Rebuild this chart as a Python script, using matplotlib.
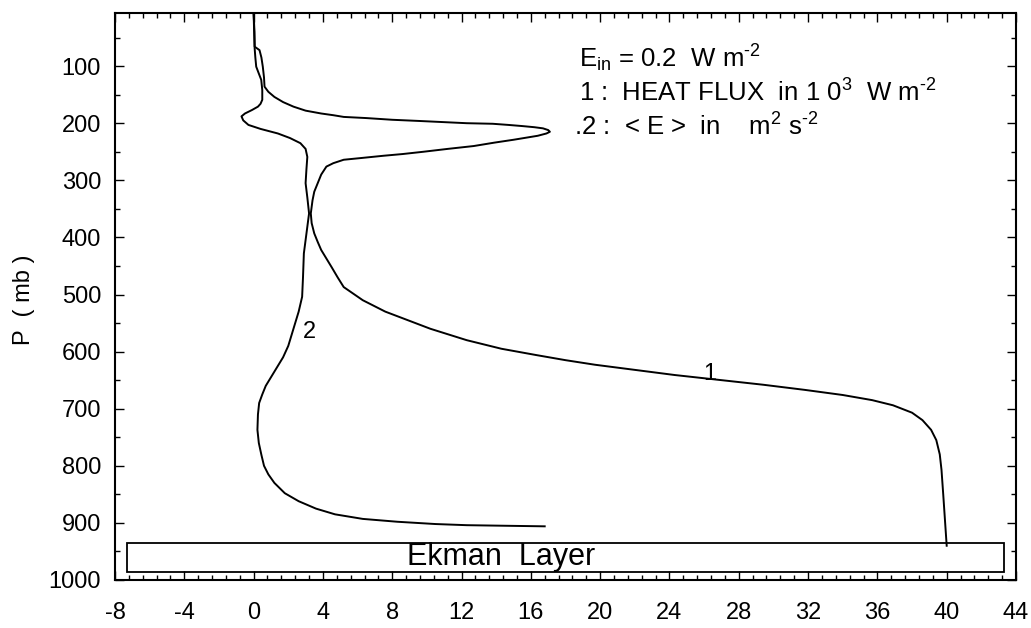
import matplotlib
matplotlib.use("Agg")
import matplotlib.pyplot as plt
from matplotlib.patches import Rectangle
from matplotlib.ticker import MultipleLocator

plt.rcParams['font.family'] = ['Liberation Sans', 'DejaVu Sans']
plt.rcParams['mathtext.fontset'] = 'custom'
plt.rcParams['mathtext.rm'] = 'Liberation Sans'
plt.rcParams['mathtext.it'] = 'Liberation Sans'
plt.rcParams['axes.unicode_minus'] = False

# Curve 1: heat flux (10^3 W m^-2) vs pressure (mb)
heat_x = [0.0, 0.05, 0.06, 0.34, 0.45, 0.53, 0.6, 0.63, 0.85, 1.2, 1.7, 2.3, 3.0, 3.9,
          4.6, 5.2, 6.5, 8.0, 9.5, 10.9, 12.3, 13.8, 14.7, 15.5, 16.2, 16.7, 17.0, 17.1,
          16.9, 16.4, 15.8, 15.0, 13.9, 12.7, 11.2, 9.8, 8.6, 7.5, 6.2, 5.2, 4.6, 4.2, 3.9,
          3.7, 3.5, 3.4, 3.3, 3.35, 3.5, 3.7, 3.9, 4.2, 4.5, 4.85, 5.2, 6.3, 7.6, 8.9, 10.2,
          12.3, 14.3, 16.3, 18.0, 19.7, 22.0, 24.3, 27.0, 29.4, 31.8, 34.0, 35.7, 36.9, 38.0,
          38.6, 39.1, 39.4, 39.6, 39.7, 39.8, 39.9, 40.0]
heat_p = [7, 40, 66, 72, 85, 101, 120, 136, 145, 154, 163, 171, 178, 183,
          186, 189, 191, 194, 196, 198, 200, 201, 203, 205, 207, 209, 212, 215,
          218, 222, 225, 229, 234, 240, 245, 250, 254, 257, 261, 264, 270, 276, 290,
          305, 320, 335, 358, 375, 393, 408, 422, 437, 452, 470, 487, 510, 530, 545, 560,
          580, 595, 606, 615, 623, 632, 641, 650, 658, 667, 676, 685, 694, 707,
          720, 737, 755, 780, 807, 850, 895, 940]

# Curve 2: <E> (m^2 s^-2) vs pressure (mb)
ke_x = [0.0, 0.03, 0.06, 0.1, 0.15, 0.3, 0.44, 0.5, 0.5, 0.4, 0.25, -0.1, -0.5, -0.7,
        -0.6, -0.3, 0.4, 1.4, 2.1, 2.7, 3.0, 3.1, 3.05, 3.0, 3.1, 3.2, 3.05, 2.9, 2.85,
        2.8, 2.6, 2.4, 2.2, 2.0, 1.7, 1.3, 1.0, 0.7, 0.5, 0.32, 0.25, 0.22, 0.3, 0.45,
        0.6, 0.85, 1.2, 1.8, 2.6, 3.6, 4.7, 6.3, 8.3, 10.5, 12.3, 14.5, 16.8]
ke_p = [7, 40, 69, 85, 101, 113, 124, 142, 159, 166, 171, 177, 183, 188,
        195, 203, 210, 218, 226, 235, 245, 259, 280, 305, 330, 358, 393, 428, 470,
        504, 530, 550, 570, 590, 610, 630, 645, 660, 675, 690, 710, 737, 760, 781,
        800, 815, 830, 848, 862, 875, 885, 893, 898, 902, 904, 905, 906]

x_ticks = list(range(-8, 45, 4))
x_ticklabels = [str(v) for v in x_ticks]
y_ticks = list(range(100, 1001, 100))
y_ticklabels = [str(v) for v in y_ticks]

ekman_top, ekman_bottom = 935, 986
ekman_left, ekman_right = -7.3, 43.3

fig = plt.figure(figsize=(10.31, 6.28), dpi=100)
ax = fig.add_axes([115 / 1031, 48 / 628, 901 / 1031, 567 / 628])

ax.plot(heat_x, heat_p, color='black', lw=1.4)
ax.plot(ke_x, ke_p, color='black', lw=1.4)

ax.set_xlim(-8, 44)
ax.set_ylim(1000, 7)

ax.set_xticks(x_ticks)
ax.set_xticklabels(x_ticklabels)
ax.set_yticks(y_ticks)
ax.set_yticklabels(y_ticklabels)
ax.xaxis.set_minor_locator(MultipleLocator(0.8))
ax.yaxis.set_minor_locator(MultipleLocator(50))

ax.tick_params(axis='both', which='both', direction='in', top=True, right=True,
               width=1.0, colors='black')
ax.tick_params(axis='both', which='major', length=6.5, labelsize=17)
ax.tick_params(axis='both', which='minor', length=3.5)
ax.tick_params(axis='x', which='major', pad=16)
ax.tick_params(axis='y', which='major', pad=10)

for s in ax.spines.values():
    s.set_linewidth(1.5)

ax.add_patch(Rectangle((ekman_left, ekman_top), ekman_right - ekman_left,
                       ekman_bottom - ekman_top, fill=False, lw=1.3, ec='black'))
ax.text(14.3, (ekman_top + ekman_bottom) / 2, 'Ekman  Layer', fontsize=22,
        ha='center', va='center')

H = '\u2010'
ax.text(18.8, 86, r'E$_{\rm in}$ = 0.2  W m$^{\rm ' + H + '2}$', fontsize=18.5,
        va='center')
ax.text(18.8, 147, r'1 :  HEAT FLUX  in 1 0$^{\rm 3}$  W m$^{\rm ' + H + '2}$',
        fontsize=18.5, va='center')
ax.text(18.5, 207, r'.2 :  < E >  in    m$^{\rm 2}$ s$^{\rm ' + H + '2}$',
        fontsize=18.5, va='center')

ax.text(26.3, 640, '1', fontsize=17, ha='center', va='center')
ax.text(3.2, 565, '2', fontsize=17, ha='center', va='center')

fig.text(24 / 1031, 1 - 300 / 628, 'P  ( mb )', rotation=90, ha='center', va='center',
         fontsize=17)

fig.savefig('out.png', dpi=100)
